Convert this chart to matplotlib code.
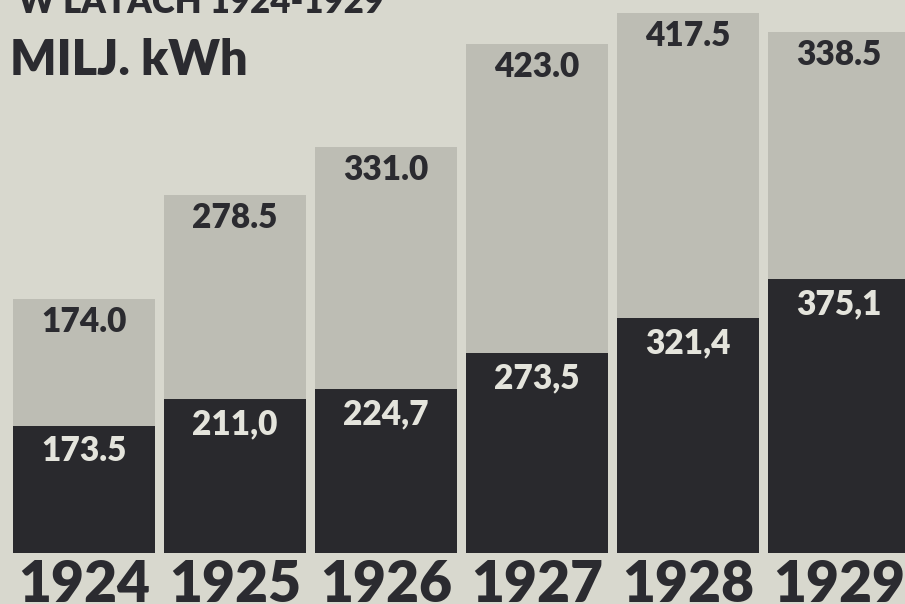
import matplotlib
matplotlib.use("Agg")
import matplotlib.pyplot as plt

years = ["1924", "1925", "1926", "1927", "1928", "1929"]
lower_vals = [173.5, 211.0, 224.7, 273.5, 321.4, 375.1]
upper_vals = [174.0, 278.5, 331.0, 423.0, 417.5, 338.5]
lower_labels = ["173.5", "211,0", "224,7", "273,5", "321,4", "375,1"]
upper_labels = ["174.0", "278.5", "331.0", "423.0", "417.5", "338.5"]
title_line1 = "W LATACH 1924-1929"
title_line2 = "MILJ. kWh"

bg = "#d8d8ce"
light = "#bdbdb4"
dark = "#29292d"
ink = "#2b2b30"
white_txt = "#e4e4dc"

plt.rcParams['font.family'] = ['Lato', 'DejaVu Sans']

fig = plt.figure(figsize=(9.05, 6.04), dpi=100, facecolor=bg)
ax = fig.add_axes([0, (604 - 553) / 604, 1, 553 / 604])
ax.set_facecolor(bg)
x = list(range(len(years)))
ax.bar(x, lower_vals, width=0.947, color=dark, linewidth=0)
ax.bar(x, upper_vals, width=0.947, bottom=lower_vals, color=light, linewidth=0)
ax.set_xlim(-84 / 151, (905 - 84) / 151)
ax.set_ylim(0, 757)
ax.axis("off")

for i in x:
    top_low = lower_vals[i]
    top_all = lower_vals[i] + upper_vals[i]
    ax.annotate(lower_labels[i], (i, top_low), xytext=(0, -25), textcoords="offset pixels",
                ha="center", va="center", fontsize=24, fontweight="heavy", color=white_txt)
    ax.annotate(upper_labels[i], (i, top_all), xytext=(0, -23), textcoords="offset pixels",
                ha="center", va="center", fontsize=24, fontweight="heavy", color=ink)
    ax.annotate(years[i], (i, 0), xytext=(0, -6), textcoords="offset pixels",
                ha="center", va="top", fontsize=41, fontweight="heavy", color=ink,
                annotation_clip=False)

fig.text(18 / 905, 1 - 13 / 604, title_line1, ha="left", va="baseline",
         fontsize=25, fontweight="heavy", color=ink)
fig.text(10 / 905, 1 - 75 / 604, title_line2, ha="left", va="baseline",
         fontsize=35, fontweight="heavy", color=ink)

fig.savefig("out.png", dpi=100, facecolor=bg)
